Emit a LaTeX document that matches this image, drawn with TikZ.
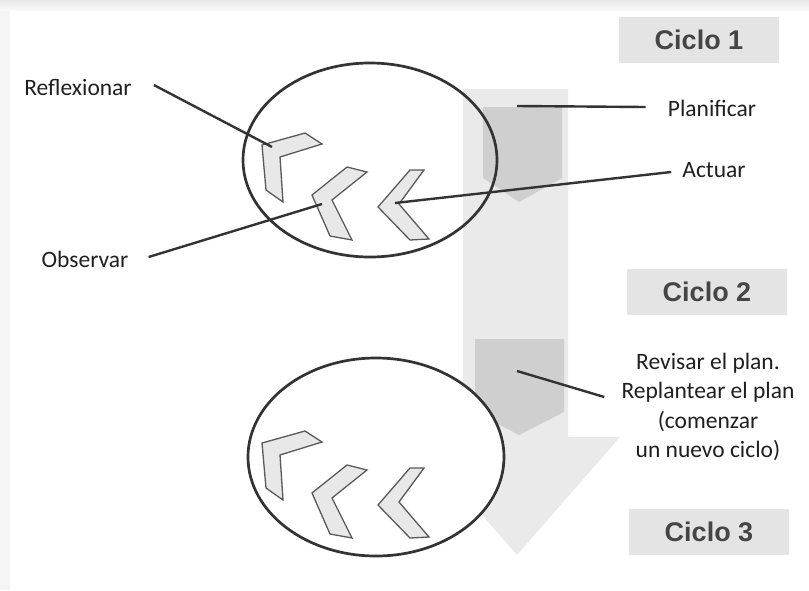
\documentclass[tikz,border=0pt]{standalone}
\usepackage{fontspec}
\setmainfont{Carlito}
\newfontfamily\arialfont{Liberation Sans}
\usetikzlibrary{positioning}

\definecolor{shaftgray}{HTML}{EAEAEA}
\definecolor{pentgray}{HTML}{CFCFCF}
\definecolor{boxgray}{HTML}{E4E4E4}
\definecolor{cictext}{HTML}{454545}
\definecolor{chevfill}{HTML}{E8E8E8}
\definecolor{inkgray}{HTML}{333333}

\begin{document}
\begin{tikzpicture}[x=1pt,y=-1pt,
    ciclo/.style={fill=boxgray, minimum width=160pt, minimum height=46pt, inner sep=0pt,
        text=cictext, font=\arialfont\bfseries\fontsize{27}{27}\selectfont},
    lbl/.style={inner sep=0pt, text=black!88, font=\fontsize{23.5}{29.5}\selectfont},
    leader/.style={draw=inkgray, line width=2.4pt},
    loopline/.style={draw=inkgray, line width=2.7pt},
    chevron/.style={fill=chevfill, draw=black!65, line width=1.3pt, line join=miter}]
    \useasboundingbox (0,0) rectangle (809,590);

    % frame shadow
    \fill[gray!8] (0,0) rectangle (10,590);
    \shade[top color=gray!18, bottom color=gray!5] (0,0) rectangle (809,10);

    % big arrow down the cycles
    \fill[shaftgray] (463,89) -- (568,89) -- (568,437) -- (620,437)
        -- (517,555) -- (414,437) -- (463,437) -- cycle;
    \fill[pentgray] (483,107) -- (562,107) -- (562,178) -- (519,202) -- (483,178) -- cycle;
    \fill[pentgray] (475,339) -- (564,339) -- (564,412) -- (519,435) -- (475,412) -- cycle;
    \coordinate (p1) at (517,106);
    \coordinate (p2) at (517,371);

    % the two loops
    \draw[loopline, fill=white] (376,457) ellipse [x radius=128, y radius=99];
    \draw[loopline] (370,160) ellipse [x radius=127, y radius=97];

    % chevrons in each loop
    \foreach \dy in {0,298} {
        \begin{scope}[shift={(0,\dy)}]
            \draw[chevron] (262,145) -- (305,133) -- (322,144) -- (280,157) -- (283,202) -- (266,190) -- cycle;
            \draw[chevron] (312,195) -- (347,167) -- (367,172) -- (332,200) -- (352,240) -- (330,236) -- cycle;
            \draw[chevron] (378,207) -- (410,170) -- (424,170) -- (399,204) -- (429,239) -- (410,240) -- cycle;
        \end{scope}
    }
    \coordinate (cA) at (272,147);
    \coordinate (cB) at (322,204);
    \coordinate (cC) at (395,203);

    % labels
    \node[lbl] (refl) at (78,87) {Reflexionar};
    \node[lbl] (obs) at (85,259) {Observar};
    \node[lbl] (plan) at (712,108) {Planificar};
    \node[lbl] (act) at (714,170) {Actuar};
    \node[lbl, align=center] (rev) at (708,407) {Revisar el plan.\\Replantear el plan\\(comenzar\\un nuevo ciclo)};

    \draw[leader] ([xshift=22pt,yshift=2pt]refl.east) -- (cA);
    \draw[leader] ([xshift=20pt,yshift=2pt]obs.east) -- (cB);
    \draw[leader] (p1) -- ([xshift=-22pt,yshift=1pt]plan.west);
    \draw[leader] (cC) -- ([xshift=-11pt,yshift=-2pt]act.west);
    \draw[leader] (p2) -- ([xshift=-17pt,yshift=10pt]rev.west);

    % cycle boxes
    \node[ciclo] (c1) at (699,40) {Ciclo 1};
    \node[ciclo] (c2) at (707,292) {Ciclo 2};
    \node[ciclo] (c3) at (709,532) {Ciclo 3};
\end{tikzpicture}
\end{document}
